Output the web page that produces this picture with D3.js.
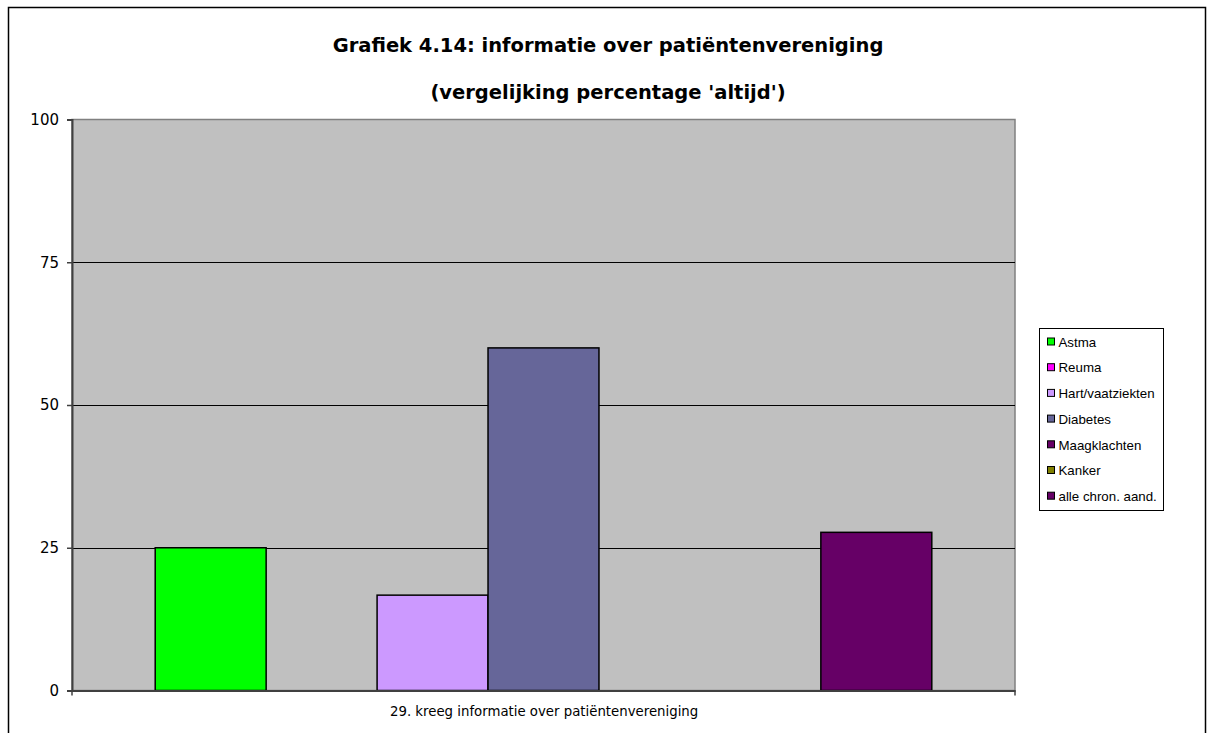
<!DOCTYPE html>
<html>
<head>
<meta charset="utf-8">
<script src="https://cdn.jsdelivr.net/npm/d3@7"></script>
<style>
  html, body { margin: 0; padding: 0; background: #fff; }
  svg { display: block; }
</style>
</head>
<body>
<script>
// Chart data
const categories = ["29. kreeg informatie over patiëntenvereniging"];
const seriesNames = ["Astma", "Reuma", "Hart/vaatziekten", "Diabetes", "Maagklachten", "Kanker", "alle chron. aand."];
const seriesValues = [25, 0, 16.7, 60, 0, 0, 27.7];
const seriesColors = ["#00FF00", "#FF00FF", "#CC99FF", "#666699", "#660066", "#808000", "#660066"];
const yTickValues = [0, 25, 50, 75, 100];
const titleLines = ["Grafiek 4.14: informatie over patiëntenvereniging", "(vergelijking percentage 'altijd')"];

const W = 1207, H = 733;
const plot = { left: 72, right: 1015, top: 119.5, bottom: 690.5 };

const svg = d3.select("body").append("svg")
  .attr("width", W).attr("height", H);

svg.append("rect").attr("width", W).attr("height", H).attr("fill", "#fff");

// Outer chart frame (bottom edge runs past the page)
svg.append("rect")
  .attr("x", 8.5).attr("y", 7.5)
  .attr("width", 1197).attr("height", 760)
  .attr("fill", "none").attr("stroke", "#000").attr("stroke-width", 1.5);

// Titles
svg.selectAll("text.title").data(titleLines).join("text")
  .attr("class", "title")
  .attr("x", 608)
  .attr("y", (d, i) => 52 + i * 47)
  .attr("text-anchor", "middle")
  .attr("font-family", "DejaVu Sans, Verdana, sans-serif")
  .attr("font-weight", "bold")
  .attr("font-size", 19.5)
  .attr("fill", "#000")
  .text(d => d);

// Scales
const x0 = d3.scaleBand().domain(categories).range([plot.left, plot.right]).paddingInner(0).paddingOuter(0);
const x1 = d3.scaleBand().domain(seriesNames).range([0, x0.bandwidth()]).paddingInner(0).paddingOuter(0.75);
const y = d3.scaleLinear().domain([0, 100]).range([plot.bottom, plot.top]);

// Plot background
svg.append("rect")
  .attr("x", plot.left).attr("y", plot.top)
  .attr("width", plot.right - plot.left).attr("height", plot.bottom - plot.top)
  .attr("fill", "#C0C0C0")
  .attr("stroke", "#808080").attr("stroke-width", 1.5);

// Gridlines
svg.append("g").selectAll("line")
  .data(yTickValues.filter(v => v > 0 && v < 100)).join("line")
  .attr("x1", plot.left).attr("x2", plot.right)
  .attr("y1", d => Math.round(y(d)) + 0.5).attr("y2", d => Math.round(y(d)) + 0.5)
  .attr("stroke", "#000").attr("stroke-width", 1);

// Bars
const groups = svg.append("g").selectAll("g")
  .data(categories).join("g")
  .attr("transform", d => `translate(${x0(d)},0)`);

groups.selectAll("rect")
  .data(() => seriesNames.map((s, i) => ({ s, v: seriesValues[i], c: seriesColors[i] })))
  .join("rect")
  .attr("x", d => x1(d.s))
  .attr("y", d => y(d.v))
  .attr("width", x1.bandwidth())
  .attr("height", d => y(0) - y(d.v))
  .attr("fill", d => d.c)
  .attr("stroke", d => d.v > 0 ? "#000" : "none")
  .attr("stroke-width", 1.5);

// Y axis
const yAxis = svg.append("g")
  .attr("transform", `translate(${plot.left},0)`)
  .call(d3.axisLeft(y).tickValues(yTickValues).tickSize(5).tickPadding(8).tickFormat(d3.format("d")));
yAxis.select(".domain").attr("stroke", "#404040").attr("stroke-width", 2);
yAxis.selectAll(".tick line").attr("stroke", "#404040").attr("stroke-width", 1.5);
yAxis.selectAll(".tick text")
  .attr("font-family", "DejaVu Sans, Verdana, sans-serif")
  .attr("font-size", 15).attr("fill", "#000");

// X axis
const xAxis = svg.append("g")
  .attr("transform", `translate(0,${plot.bottom})`)
  .call(d3.axisBottom(x0).tickSize(0).tickPadding(16));
xAxis.select(".domain").attr("stroke", "#404040").attr("stroke-width", 2);
xAxis.selectAll(".tick text")
  .attr("x", -(x0.bandwidth() / 2) + 318)
  .attr("text-anchor", "start")
  .attr("font-family", "DejaVu Sans, Verdana, sans-serif")
  .attr("font-size", 13.3).attr("fill", "#000");
// category boundary ticks
xAxis.append("g").selectAll("line")
  .data([plot.left, plot.right]).join("line")
  .attr("x1", d => d).attr("x2", d => d)
  .attr("y1", 0).attr("y2", 5)
  .attr("stroke", "#404040").attr("stroke-width", 1.5);

// Legend
const legend = svg.append("g").attr("transform", "translate(1039.5,328.5)");
legend.append("rect")
  .attr("width", 124).attr("height", 182)
  .attr("fill", "#fff").attr("stroke", "#000").attr("stroke-width", 1);

const items = legend.selectAll("g.item")
  .data(seriesNames.map((s, i) => ({ s, c: seriesColors[i] })))
  .join("g").attr("class", "item")
  .attr("transform", (d, i) => `translate(0,${13.5 + i * 25.7})`);
items.append("rect")
  .attr("x", 8).attr("y", -4)
  .attr("width", 7).attr("height", 7)
  .attr("fill", d => d.c).attr("stroke", "#000").attr("stroke-width", 1);
items.append("text")
  .attr("x", 19).attr("y", 0)
  .attr("dy", "0.36em")
  .attr("font-family", "Liberation Sans, Arial, sans-serif")
  .attr("font-size", 13.3).attr("fill", "#000")
  .text(d => d.s);
</script>
</body>
</html>
